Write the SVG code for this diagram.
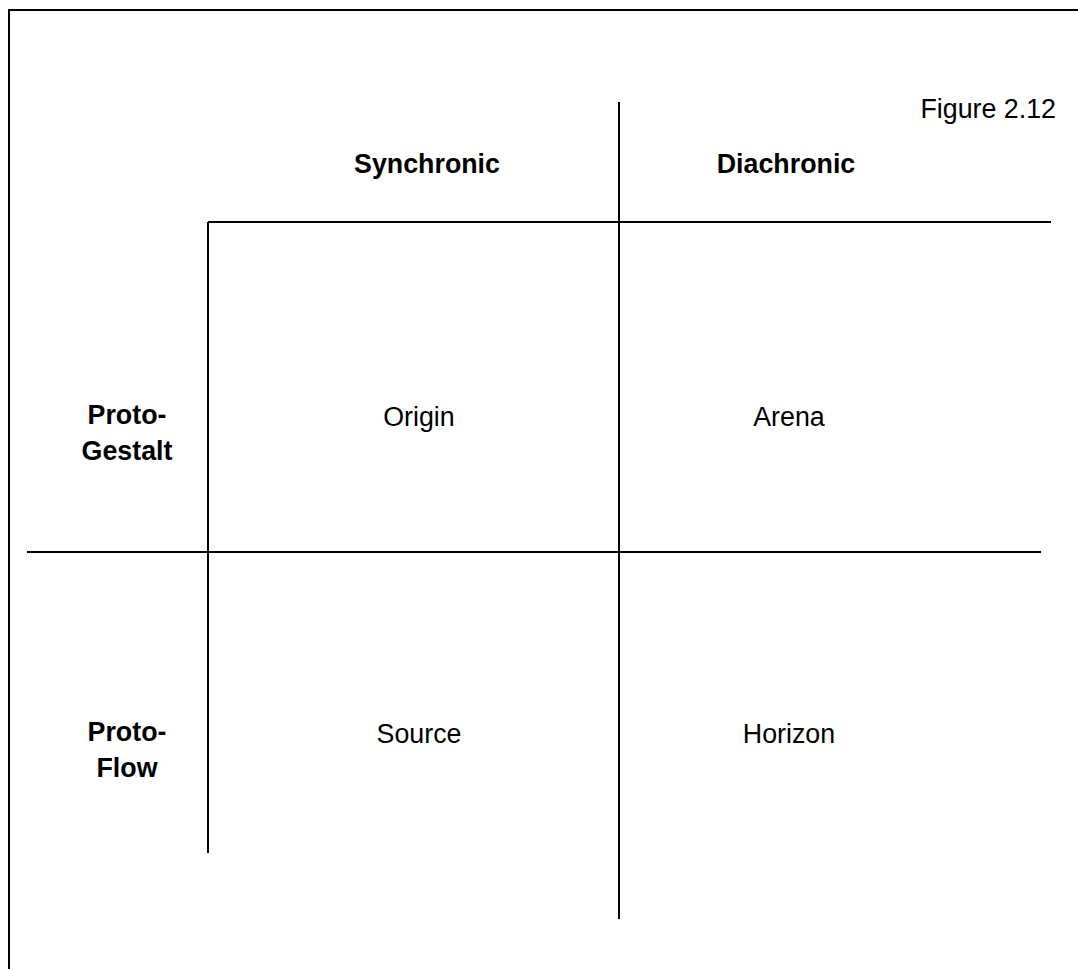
<svg xmlns="http://www.w3.org/2000/svg" width="1078" height="969" viewBox="0 0 1078 969">
  <style>
    .rule { stroke: #000; stroke-width: 2; fill: none; }
    .head { font-family: "Liberation Sans", Arial, sans-serif; font-size: 26.8px; font-weight: bold; fill: #000; text-anchor: middle; }
    .cell { font-family: "Liberation Sans", Arial, sans-serif; font-size: 26.8px; fill: #000; text-anchor: middle; }
    .fig { font-family: "Liberation Sans", Arial, sans-serif; font-size: 26.8px; fill: #000; text-anchor: end; }
  </style>
  <rect width="1078" height="969" fill="#fff"/>
  <!-- frame -->
  <path class="rule" d="M9 969 V10 H1078"/>
  <g id="connectors">
    <line class="rule" x1="619" y1="102" x2="619" y2="919"/>
    <line class="rule" x1="208" y1="222" x2="1051" y2="222"/>
    <line class="rule" x1="208" y1="222" x2="208" y2="853"/>
    <line class="rule" x1="27" y1="552" x2="1041" y2="552"/>
  </g>
  <g id="figure-label"><text class="fig" x="1056" y="118">Figure 2.12</text></g>
  <g id="synchronic"><text class="head" x="427" y="173">Synchronic</text></g>
  <g id="diachronic"><text class="head" x="786" y="173">Diachronic</text></g>
  <g id="proto-gestalt"><text class="head" x="127" y="424">Proto-</text><text class="head" x="127" y="460">Gestalt</text></g>
  <g id="proto-flow"><text class="head" x="127" y="741">Proto-</text><text class="head" x="127" y="777">Flow</text></g>
  <g id="origin"><text class="cell" x="419" y="426">Origin</text></g>
  <g id="arena"><text class="cell" x="789" y="426">Arena</text></g>
  <g id="source"><text class="cell" x="419" y="743">Source</text></g>
  <g id="horizon"><text class="cell" x="789" y="743">Horizon</text></g>
</svg>
